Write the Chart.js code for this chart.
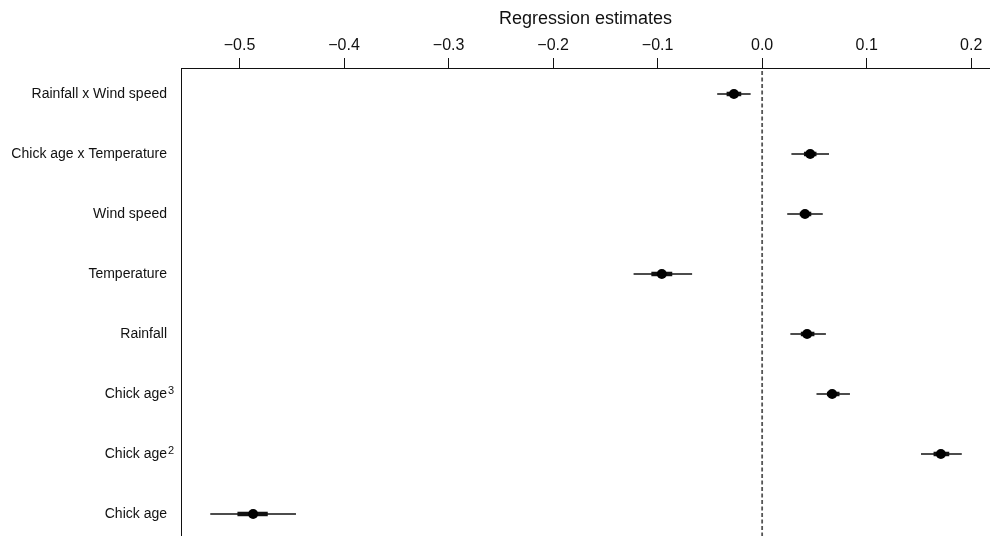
<!DOCTYPE html>
<html>
<head>
<meta charset="utf-8">
<script src="https://cdn.jsdelivr.net/npm/chart.js@4.4.1/dist/chart.umd.min.js"></script>
<style>
  html, body { margin: 0; padding: 0; background: #fff; }
  #wrap { width: 990px; height: 536px; }
</style>
</head>
<body>
<div id="wrap"><canvas id="coefPlot" width="990" height="536"></canvas></div>
<script>
// ─── DATOS ────────────────────────────────────────────
const rowLabels = ['Rainfall x Wind speed', 'Chick age x Temperature', 'Wind speed', 'Temperature',
                   'Rainfall', 'Chick age', 'Chick age', 'Chick age'];
const rowSup    = ['', '', '', '', '', '3', '2', ''];
const estimates = [-0.027, 0.046, 0.041, -0.096, 0.043, 0.067, 0.171, -0.487];
const outerLow  = [-0.043, 0.028, 0.024, -0.123, 0.027, 0.052, 0.152, -0.528];
const outerHigh = [-0.011, 0.064, 0.058, -0.067, 0.061, 0.084, 0.191, -0.446];
const innerLow  = [-0.034, 0.040, 0.036, -0.106, 0.037, 0.062, 0.164, -0.502];
const innerHigh = [-0.020, 0.052, 0.047, -0.086, 0.050, 0.074, 0.179, -0.473];
const xTicks    = [-0.5, -0.4, -0.3, -0.2, -0.1, 0.0, 0.1, 0.2];

const X_MIN = -0.556, X_MAX = 0.218;
const Y_MIN = -0.433, Y_MAX = 7.367;
const FONT  = "'Liberation Sans', Arial, sans-serif";
const INK   = '#111';
const LABEL_PAD = 14;

const fmt = v => v.toFixed(1).replace('-', '\u2212');

// Exponentes junto a las etiquetas (Chick age² / ³)
const superscriptPlugin = {
  id: 'superscripts',
  afterDraw(chart) {
    const { ctx, chartArea, scales } = chart;
    ctx.save();
    ctx.fillStyle = INK;
    ctx.font = `11px ${FONT}`;
    ctx.textAlign = 'left';
    ctx.textBaseline = 'alphabetic';
    rowSup.forEach((s, i) => {
      if (!s) return;
      const y = scales.y.getPixelForValue(i);
      ctx.fillText(s, chartArea.left - LABEL_PAD + 1, y + 0.5);
    });
    ctx.restore();
  },
};

// Líneas de intervalo (finas y gruesas)
const ciSets = [];
rowLabels.forEach((_, i) => {
  ciSets.push({
    type: 'line',
    data: [{ x: outerLow[i], y: i }, { x: outerHigh[i], y: i }],
    borderColor: INK, borderWidth: 1.7, pointRadius: 0, order: 2,
  });
  ciSets.push({
    type: 'line',
    data: [{ x: innerLow[i], y: i }, { x: innerHigh[i], y: i }],
    borderColor: INK, borderWidth: 4.5, pointRadius: 0, order: 1,
  });
});

new Chart(document.getElementById('coefPlot'), {
  type: 'line',
  data: {
    datasets: [
      {
        // referencia en cero
        data: [{ x: 0, y: Y_MIN + 0.05 }, { x: 0, y: Y_MAX }],
        borderColor: '#555', borderWidth: 1.8, borderDash: [4, 2.5],
        pointRadius: 0, order: 3,
      },
      ...ciSets,
      {
        data: estimates.map((v, i) => ({ x: v, y: i })),
        showLine: false,
        pointRadius: 5,
        pointBackgroundColor: '#000',
        pointBorderWidth: 0,
        order: 0,
      },
    ],
  },
  options: {
    responsive: false,
    animation: false,
    layout: { padding: 0, autoPadding: false },
    plugins: { legend: { display: false }, tooltip: { enabled: false } },
    scales: {
      x: {
        type: 'linear',
        position: 'top',
        min: X_MIN, max: X_MAX,
        afterBuildTicks: s => { s.ticks = xTicks.map(v => ({ value: v })); },
        afterFit: s => { s.height = 68; s.paddingLeft = 0; s.paddingRight = 0; },
        grid: { drawOnChartArea: false, drawTicks: true, tickLength: 10, color: INK },
        border: { display: true, color: INK, width: 1 },
        ticks: { color: INK, padding: 3, font: { family: FONT, size: 16 }, callback: v => fmt(v) },
        title: {
          display: true, text: 'Regression estimates', color: INK,
          font: { family: FONT, size: 18 }, padding: { top: 8, bottom: 0 },
        },
      },
      y: {
        type: 'linear',
        reverse: true,
        min: Y_MIN, max: Y_MAX,
        afterBuildTicks: s => { s.ticks = rowLabels.map((_, i) => ({ value: i })); },
        afterFit: s => { s.width = 181; s.paddingTop = 0; s.paddingBottom = 0; },
        grid: { drawOnChartArea: false, drawTicks: false },
        border: { display: true, color: INK, width: 1 },
        ticks: { color: INK, padding: LABEL_PAD, font: { family: FONT, size: 14 }, callback: v => rowLabels[v] },
      },
    },
  },
  plugins: [superscriptPlugin],
});
</script>
</body>
</html>
